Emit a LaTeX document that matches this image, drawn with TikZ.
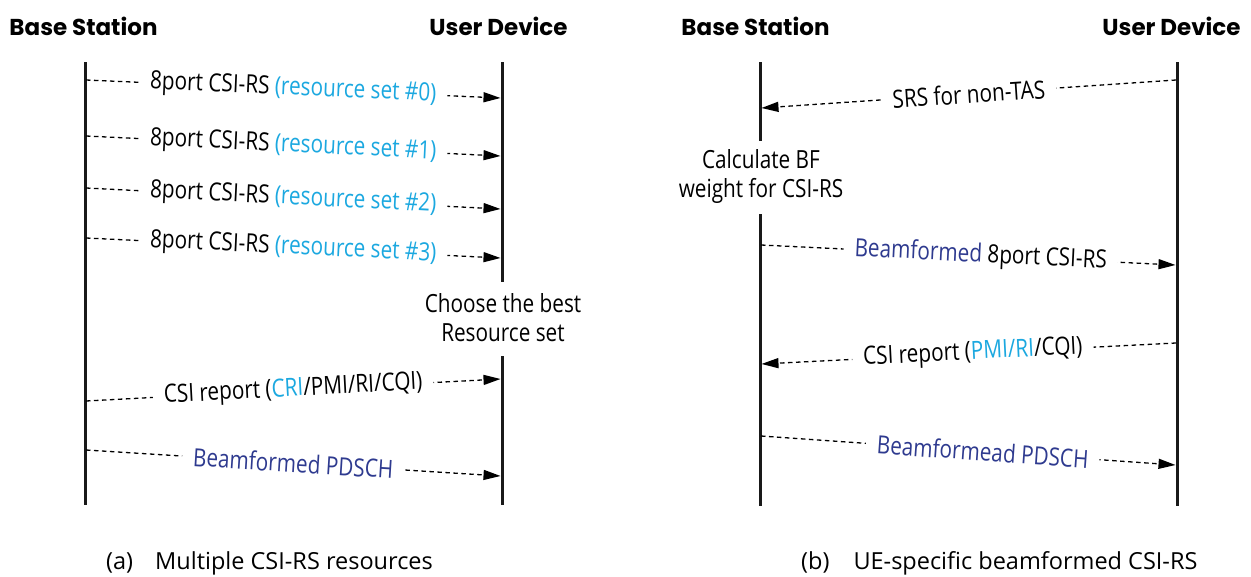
\documentclass[tikz,border=0pt]{standalone}
\usepackage{fontspec}
\setmainfont{Open Sans}
\newfontfamily\msgfont[FakeStretch=0.83]{Open Sans}
\newfontfamily\hdrfont{Poppins}
\usetikzlibrary{arrows.meta}
\definecolor{cyanT}{HTML}{1BA8E0}
\definecolor{navyT}{HTML}{2E3A8F}
\tikzset{
  hdr/.style={font=\hdrfont\bfseries\fontsize{23}{28}\selectfont, inner sep=0pt},
  msgtext/.style={font=\msgfont\fontsize{25}{29}\selectfont},
  life/.style={line width=3pt, draw=black!90},
  sig/.style={dash pattern=on 4.5pt off 3.5pt, line width=1.3pt,
     -{Triangle[length=17pt,width=10pt]}},
  lbl/.style={msgtext, sloped, fill=white, inner xsep=11pt, inner ysep=2pt},
  note/.style={msgtext, align=center, inner sep=0pt},
  capt/.style={font=\fontsize{23.5}{28}\selectfont, inner sep=0pt, anchor=base west}
}
\begin{document}
\begin{tikzpicture}[x=1pt,y=-1pt]
\useasboundingbox (0,0) rectangle (1251,576);

% headers
\node[hdr] (hbsa) at (83.5,26) {Base Station};
\node[hdr] (huda) at (498.5,26) {User Device};
\node[hdr] (hbsb) at (755.5,26) {Base Station};
\node[hdr] (hudb) at (1171.5,26) {User Device};

% lifelines (a)
\coordinate (bsaT) at (85,62);  \coordinate (bsaB) at (85,505);
\coordinate (udaT) at (502,62); \coordinate (udaM1) at (502,282);
\coordinate (udaM2) at (502,356); \coordinate (udaB) at (502,505);
\draw[life] (bsaT) -- (bsaB);
\draw[life] (udaT) -- (udaM1);
\draw[life] (udaM2) -- (udaB);
% lifelines (b)
\coordinate (bsbT) at (760,62);  \coordinate (bsbM1) at (760,141);
\coordinate (bsbM2) at (760,214); \coordinate (bsbB) at (760,506);
\coordinate (udbT) at (1177,62); \coordinate (udbB) at (1177,506);
\draw[life] (bsbT) -- (bsbM1);
\draw[life] (bsbM2) -- (bsbB);
\draw[life] (udbT) -- (udbB);

% notes
\node[note] (choose) at (503,318) {Choose the best\\Resource set};
\node[note] (calc) at (761,177) {Calculate BF\\weight for CSI-RS};

% messages (a)
\coordinate (a1s) at (86,80);  \coordinate (a1e) at (500.5,98);
\coordinate (a2s) at (86,136); \coordinate (a2e) at (500.5,156);
\coordinate (a3s) at (86,188); \coordinate (a3e) at (500.5,209);
\coordinate (a4s) at (86,238); \coordinate (a4e) at (500.5,258);
\coordinate (a5s) at (86,401); \coordinate (a5e) at (500.5,379);
\coordinate (a6s) at (86,450); \coordinate (a6e) at (500.5,476);
\draw[sig] (a1s) -- node[lbl] (m1) {8port CSI-RS {\color{cyanT}(resource set \#0)}} (a1e);
\draw[sig] (a2s) -- node[lbl] (m2) {8port CSI-RS {\color{cyanT}(resource set \#1)}} (a2e);
\draw[sig] (a3s) -- node[lbl] (m3) {8port CSI-RS {\color{cyanT}(resource set \#2)}} (a3e);
\draw[sig] (a4s) -- node[lbl] (m4) {8port CSI-RS {\color{cyanT}(resource set \#3)}} (a4e);
\draw[sig] (a5s) -- node[lbl] (m5) {CSI report ({\color{cyanT}CRI}/PMI/RI/CQI)} (a5e);
\draw[sig] (a6s) -- node[lbl] (m6) {\color{navyT}Beamformed PDSCH} (a6e);

% messages (b)
\coordinate (b1s) at (1176,80);  \coordinate (b1e) at (761.5,108);
\coordinate (b2s) at (761,245);  \coordinate (b2e) at (1175.5,265);
\coordinate (b3s) at (1176,343); \coordinate (b3e) at (761.5,364);
\coordinate (b4s) at (761,436);  \coordinate (b4e) at (1175.5,465);
\draw[sig] (b1s) -- node[lbl] (n1) {SRS for non-TAS} (b1e);
\draw[sig] (b2s) -- node[lbl, pos=0.53] (n2) {{\color{navyT}Beamformed} 8port CSI-RS} (b2e);
\draw[sig] (b3s) -- node[lbl, pos=0.49] (n3) {CSI report ({\color{cyanT}PMI/RI}/CQI)} (b3e);
\draw[sig] (b4s) -- node[lbl, pos=0.535] (n4) {\color{navyT}Beamformead PDSCH} (b4e);

% captions
\node[capt] (capa) at (106,569) {(a)\hspace{22pt}Multiple CSI-RS resources};
\node[capt] (capb) at (801,569) {(b)\hspace{24pt}UE-specific beamformed CSI-RS};
\end{tikzpicture}
\end{document}
